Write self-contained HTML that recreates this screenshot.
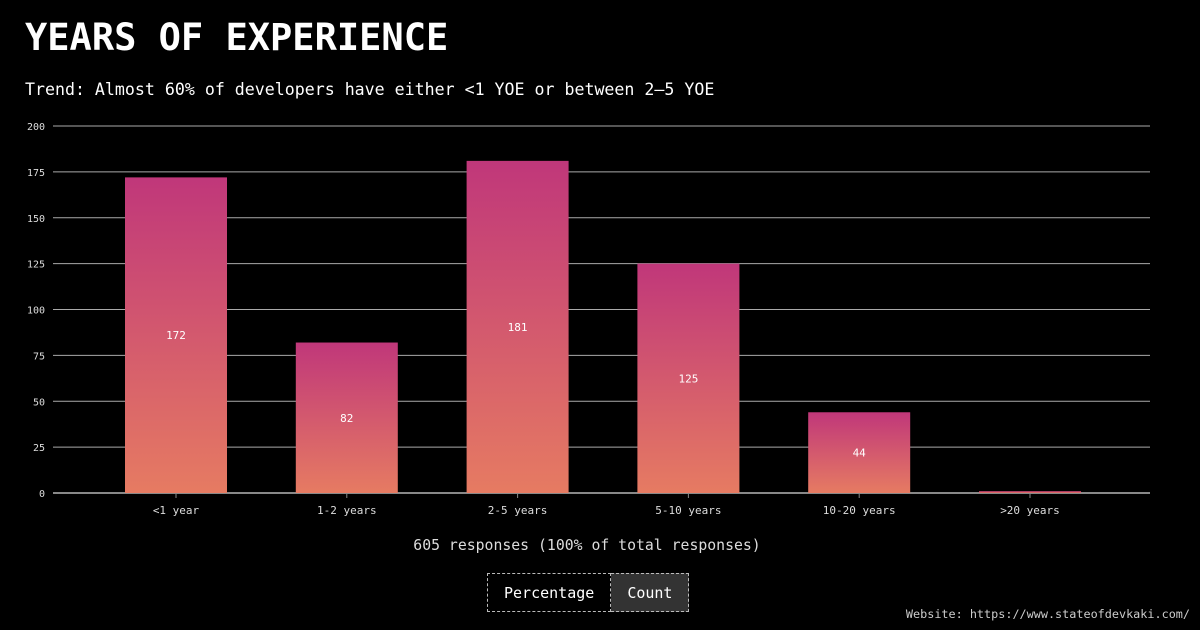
<!DOCTYPE html>
<html><head><meta charset="utf-8"><style>
body{margin:0;background:#000;width:1200px;height:630px;overflow:hidden;font-family:"DejaVu Sans Mono","Liberation Mono",monospace;color:#fff;position:relative}
h1{position:absolute;left:25px;top:16px;margin:0;font-size:37px;font-weight:bold;letter-spacing:0px}
.sub{position:absolute;left:25px;top:80px;font-size:16.6px}
.resp{position:absolute;left:0;width:1174px;text-align:center;top:537px;font-size:14.8px;color:#ddd}
.btns{position:absolute;left:487px;top:573px;display:flex}
.btn{border:1px dashed #bbb;height:39px;line-height:39px;font-size:15px;padding:0 16px;box-sizing:border-box}
.website{position:absolute;right:10px;top:607px;font-size:11.8px;color:#ccc}
svg{position:absolute;left:0;top:0}
</style></head><body>
<h1>YEARS OF EXPERIENCE</h1>
<div class="sub">Trend: Almost 60% of developers have either &lt;1 YOE or between 2–5 YOE</div>
<svg id="chart" width="1200" height="630">
<defs><linearGradient id="g" x1="0" y1="0" x2="0" y2="1"><stop offset="0" stop-color="#c0377a"/><stop offset="1" stop-color="#e67b62"/></linearGradient></defs>
</svg>
<div class="resp">605 responses (100% of total responses)</div>
<div class="btns">
<div class="btn">Percentage</div>
<div class="btn" style="background:#333;border-left:none">Count</div>
</div>
<div class="website">Website: https://www.stateofdevkaki.com/</div>
<script>
const categories=["<1 year","1-2 years","2-5 years","5-10 years","10-20 years",">20 years"];
const values=[172,82,181,125,44,1];
const yTicks=[0,25,50,75,100,125,150,175,200];
const svg=document.getElementById('chart');const NS='http://www.w3.org/2000/svg';
const y0=493,y1=126,yMax=200,xL=53,xR=1150;
const y=v=>y0-(y0-y1)*v/yMax;
const step=170.8,x=i=>176+i*step,bw=102;
function mk(t,a){const e=document.createElementNS(NS,t);for(const k in a)e.setAttribute(k,a[k]);svg.appendChild(e);return e;}
yTicks.forEach(t=>{
 const l=mk('line',{x1:xL,x2:xR,y1:y(t),y2:y(t),stroke:t===0?'#888':'#aaa','stroke-width':t===0?2:1});
 
 
 const tx=mk('text',{x:45,y:y(t)+4,'text-anchor':'end',fill:'#ddd','font-size':10,'font-family':'DejaVu Sans Mono, monospace'});tx.textContent=t;
 
 
});
categories.forEach((c,i)=>{
 const v=values[i];
 const r=mk('rect',{x:x(i)-bw/2,y:y(v),width:bw,height:y0-y(v),fill:'url(#g)'});
 
 
 mk('line',{x1:x(i),x2:x(i),y1:y0,y2:y0+5,stroke:'#888'});
 const t=mk('text',{x:x(i),y:514,'text-anchor':'middle',fill:'#ddd','font-size':11,'font-family':'DejaVu Sans Mono, monospace'});t.textContent=c;
 
 
 if(v>5){const vl=mk('text',{x:x(i),y:(y(v)+y0)/2+4,'text-anchor':'middle',fill:'#fff','font-size':11,'font-family':'DejaVu Sans Mono, monospace'});vl.textContent=v;
 
 }
});
</script>
</body></html>
